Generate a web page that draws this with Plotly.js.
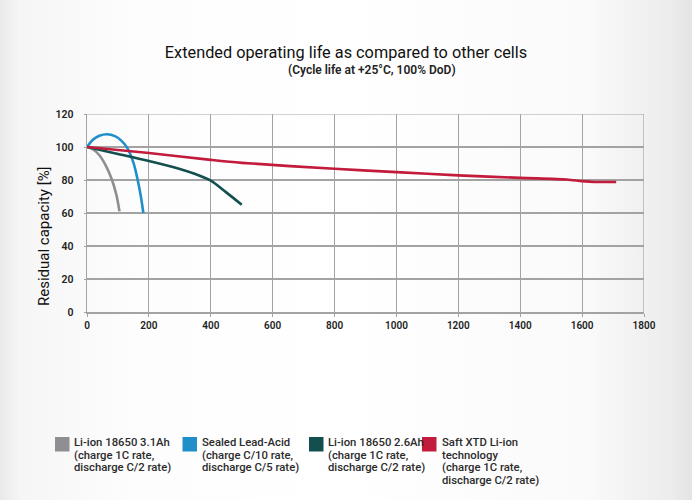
<!DOCTYPE html>
<html>
<head>
<meta charset="utf-8">
<script src="https://cdn.plot.ly/plotly-3.0.1.min.js"></script>
<style>
html,body{margin:0;padding:0;}
body{width:692px;height:500px;background:linear-gradient(to right,#e9e9e9 0%,#f6f6f6 3%,#fdfdfd 20%,#ffffff 50%,#fafafa 85%,#ececec 97%,#e4e4e4 100%);}
#chart{width:692px;height:500px;}
</style>
</head>
<body>
<div id="chart"></div>
<script>
// Li-ion 18650 3.1Ah
const grayX = [0, 20, 40, 60, 80, 95, 105];
const grayY = [100, 98.5, 95, 89, 80.5, 71, 61];
// Sealed Lead-Acid
const blueX = [0, 20, 40, 65, 90, 110, 130, 150, 165, 175, 182];
const blueY = [100, 104.5, 106.8, 107.7, 106.6, 104, 99.5, 90.5, 79, 69, 60];
// Li-ion 18650 2.6Ah
const greenX = [0, 100, 200, 300, 350, 400, 450, 500];
const greenY = [100, 95.8, 91.5, 86.7, 83.6, 79.6, 72.5, 65];
// Saft XTD Li-ion
const redX = [0, 200, 400, 500, 800, 1000, 1200, 1400, 1550, 1600, 1640, 1710];
const redY = [100, 96.4, 92.2, 90.4, 86.8, 84.8, 82.8, 81.3, 80.3, 79.3, 78.8, 78.8];

const seriesLabels = [
  ["Li-ion 18650 3.1Ah", "(charge 1C rate,", "discharge C/2 rate)"],
  ["Sealed Lead-Acid", "(charge C/10 rate,", "discharge C/5 rate)"],
  ["Li-ion 18650 2.6Ah", "(charge 1C rate,", "discharge C/2 rate)"],
  ["Saft XTD Li-ion", "technology", "(charge 1C rate,", "discharge C/2 rate)"]
];
const titleText = "Extended operating life as compared to other cells";
const subtitleText = "(Cycle life at +25°C, 100% DoD)";
const yTitleText = "Residual capacity [%]";

const colors = ["#8f8f93", "#1f8ec9", "#134f4f", "#c21b3b"];
const xs = [grayX, blueX, greenX, redX];
const ys = [grayY, blueY, greenY, redY];

const W = 692, H = 500;
const M = {l: 87, r: 48, t: 114, b: 188};
const PW = W - M.l - M.r, PH = H - M.t - M.b;
const px2x = p => (p - M.l) / PW;
const py2y = p => (H - M.b - p) / PH;

const traces = [];
for (let i = 0; i < 4; i++) {
  traces.push({
    x: xs[i], y: ys[i], mode: "lines", type: "scatter",
    name: seriesLabels[i][0],
    line: {color: colors[i], width: 2.6, shape: "spline", smoothing: 0.8},
    showlegend: false, hoverinfo: "skip"
  });
}

const baseFont = "Roboto, 'DejaVu Sans', sans-serif";
const shapes = [
  {type: "line", xref: "x", yref: "y", x0: 1800, x1: 1800, y0: 0, y1: 120, line: {color: "#a3a3a3", width: 1.2}, layer: "below"},
  {type: "line", xref: "x", yref: "y", x0: 0, x1: 1800, y0: 120, y1: 120, line: {color: "#a3a3a3", width: 1.2}, layer: "below"}
];
const annotations = [
  {text: subtitleText, xref: "paper", yref: "paper", x: px2x(372), y: py2y(69.5), xanchor: "center", yanchor: "middle",
   showarrow: false, font: {size: 12, color: "#222", family: baseFont, weight: 600}},
  {text: yTitleText, xref: "paper", yref: "paper", x: px2x(44), y: py2y(236), xanchor: "center", yanchor: "middle",
   textangle: -90, showarrow: false, font: {size: 15, color: "#111", family: baseFont}}
];
const sqLeft = [55, 182.5, 309, 422];
const txtLeft = [73, 201, 327, 441];
const lineCenters = [442, 455, 467.5, 480];
for (let i = 0; i < 4; i++) {
  shapes.push({type: "rect", xref: "paper", yref: "paper",
    x0: px2x(sqLeft[i]), x1: px2x(sqLeft[i] + 14.5), y0: py2y(451.5), y1: py2y(437),
    fillcolor: colors[i], line: {width: 0}});
  seriesLabels[i].forEach((t, j) => {
    annotations.push({text: t, xref: "paper", yref: "paper", x: px2x(txtLeft[i] - 1), y: py2y(lineCenters[j]),
      xanchor: "left", yanchor: "middle", showarrow: false,
      font: {size: 11.3, color: "#2b2b2b", family: baseFont, weight: 500}});
  });
}

const layout = {
  width: W, height: H,
  paper_bgcolor: "rgba(0,0,0,0)",
  plot_bgcolor: "rgba(255,255,255,0)",
  margin: M,
  showlegend: false,
  font: {family: baseFont, color: "#2b2b2b"},
  title: {
    text: titleText,
    font: {size: 16.3, family: baseFont, color: "#111", weight: 400},
    x: 0.5, xref: "container", xanchor: "center", y: 1 - 52 / H, yref: "container", yanchor: "middle"
  },
  xaxis: {
    range: [0, 1800], dtick: 200, tick0: 0,
    showgrid: true, gridcolor: "#a3a3a3", gridwidth: 1.2,
    showline: true, linecolor: "#a3a3a3", linewidth: 1.6,
    zeroline: false, ticks: "outside", ticklen: 3, tickcolor: "#a3a3a3",
    tickfont: {size: 10, color: "#222", family: baseFont, weight: 600},
    fixedrange: true
  },
  yaxis: {
    range: [0, 120], dtick: 20, tick0: 0,
    showgrid: true, gridcolor: "#a3a3a3", gridwidth: 1.2,
    showline: true, linecolor: "#a3a3a3", linewidth: 1.4,
    zeroline: false, ticks: "outside", ticklen: 2, tickcolor: "#a3a3a3",
    ticklabelstandoff: 8,
    tickfont: {size: 10.5, color: "#222", family: baseFont, weight: 600},
    fixedrange: true
  },
  shapes: shapes,
  annotations: annotations
};

Plotly.newPlot("chart", traces, layout, {displayModeBar: false, staticPlot: true});
</script>
</body>
</html>
